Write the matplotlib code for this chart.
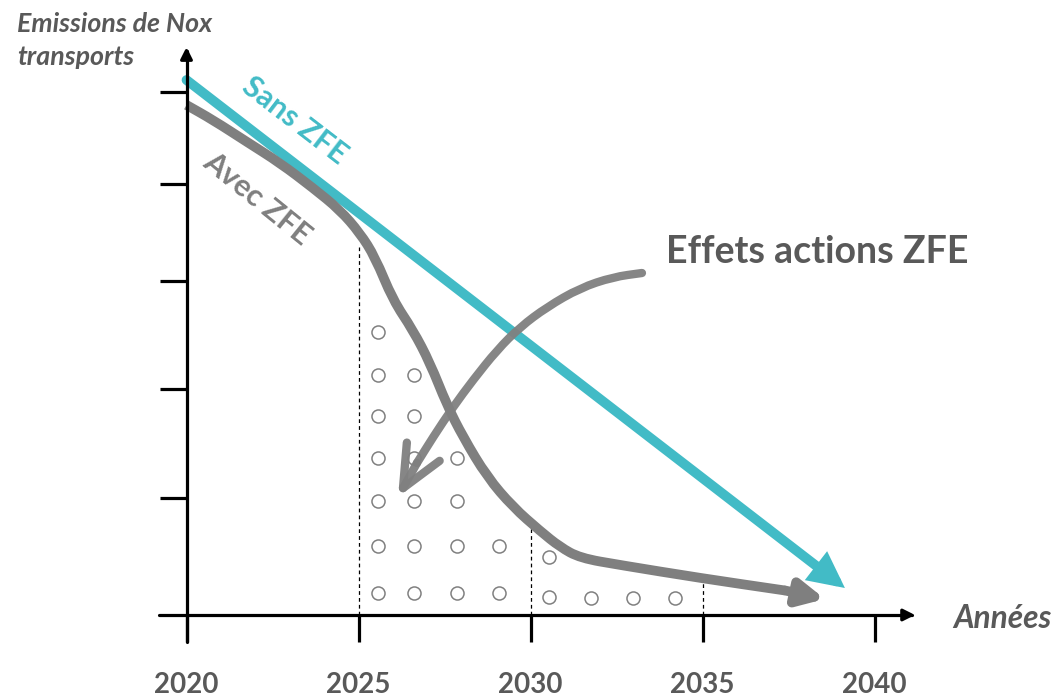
import numpy as np
import matplotlib
matplotlib.use("Agg")
import matplotlib.pyplot as plt
from matplotlib.patches import FancyArrowPatch, PathPatch
from matplotlib.path import Path

# data (years / emission level, arbitrary units)
years_ticks = [2020, 2025, 2030, 2035, 2040]
y_ticks = [11.7, 22.6, 33.4, 43.1, 52.3]

sans_years = [2020.0, 2039.14]
sans_vals = [53.5, 2.7]

avec_years = [2020.0, 2020.77, 2021.76, 2022.72, 2023.68, 2024.46, 2025.04, 2025.48,
              2026.0, 2026.58, 2027.08, 2027.57, 2028.04, 2028.74, 2029.49, 2030.28,
              2030.86, 2031.44, 2032.6, 2034.93, 2037.4, 2038.56]
avec_vals = [51.0, 49.5, 47.3, 45.2, 42.7, 40.5, 38.2, 35.8,
             31.5, 28.5, 25.2, 21.0, 17.8, 13.8, 10.8, 8.4,
             6.8, 5.7, 5.0, 3.7, 2.45, 1.6]

# dashed guides at 2025 / 2030 / 2035
guide_years = [2025, 2030, 2035]
guide_tops = [36.8, 8.8, 3.7]

# small circles = gap between the two scenarios
dots_x = [2025.56] * 7 + [2026.60] * 6 + [2027.85] * 4 + [2029.08] * 2 + [2030.53] * 2 \
    + [2031.76, 2032.98, 2034.2]
dots_y = [28.3, 24.0, 19.9, 15.7, 11.4, 6.9, 2.2,
          24.0, 19.9, 15.7, 11.4, 6.9, 2.2,
          15.7, 11.4, 6.9, 2.2,
          6.9, 2.2,
          5.8, 1.8,
          1.7, 1.7, 1.7]

# hand drawn arrow "Effets actions ZFE"
effet_x = [2033.24, 2032.40, 2031.44, 2030.48, 2029.70, 2029.03, 2028.33,
           2027.75, 2027.17, 2026.70, 2026.15]
effet_y = [34.2, 33.8, 32.7, 30.8, 28.8, 26.5, 23.5, 20.8, 17.8, 15.2, 11.8]

W, H = 1057, 697
teal = "#42BBC6"
grey = "#7F7F7F"
txt = "#595959"
font = "Lato"

fig = plt.figure(figsize=(W / 100, H / 100), dpi=100)
ax = fig.add_axes([0, 0, 1, 1])
sx = 34.4
ax.set_xlim(2020 - 186.5 / sx, 2020 + (W - 186.5) / sx)
ax.set_ylim(-8.2, 61.5)
ax.axis("off")


def arrow(xs, ys, style, lw, color, ms=10, z=3, **kw):
    p = FancyArrowPatch(path=Path(np.column_stack([xs, ys])), arrowstyle=style,
                        mutation_scale=ms, lw=lw, color=color, zorder=z, **kw)
    ax.add_patch(p)
    return p


def smooth_arrow(xs, ys, style, lw, color, z=3, alpha=1.0, cap="round"):
    # quadratic b-spline through the read points, head added on the last segment
    pts = np.column_stack([xs, ys])
    mids = (pts[:-1] + pts[1:]) / 2
    verts = [pts[0], mids[0]]
    codes = [Path.MOVETO, Path.LINETO]
    for i in range(1, len(pts) - 2):
        verts += [pts[i], mids[i]]
        codes += [Path.CURVE3, Path.CURVE3]
    verts.append(pts[-2])
    codes.append(Path.LINETO)
    ax.add_patch(PathPatch(Path(verts, codes), fill=False, lw=lw, ec=color,
                           capstyle=cap, joinstyle="round", zorder=z, alpha=alpha))
    arrow(xs[-2:], ys[-2:], style, lw, color, z=z, alpha=alpha,
          joinstyle="round", capstyle="round")


# axes
arrow([2019.2, 2041.18], [0, 0], "-|>,head_length=0.7,head_width=0.35", 2.3, "black", z=4)
arrow([2020, 2020], [-2.7, 56.8], "-|>,head_length=0.7,head_width=0.35", 2.3, "black", z=4)
ax.hlines(y_ticks, 2020 - 27 / sx, 2020, color="black", lw=2.3, zorder=4)
ax.vlines(years_ticks, -2.7, 0, color="black", lw=2.3, zorder=4)
for yr in years_ticks:
    ax.text(yr, -7.8, str(yr), ha="center", va="baseline", fontsize=20,
            fontweight="bold", color=txt, family=font)

# dashed guides
ax.vlines(guide_years, 0, guide_tops, color="black", lw=0.9, linestyles=(0, (3, 2.5)), zorder=2)

# circles
ax.plot(dots_x, dots_y, "o", ms=9.4, mfc="white", mec="#808080", mew=1.1, zorder=2)

# scenario lines
arrow(sans_years, sans_vals, "-|>,head_length=1.5,head_width=0.75", 7, teal, joinstyle="miter")
smooth_arrow(avec_years, avec_vals, "-|>,head_length=1.5,head_width=0.75", 7, grey, cap="butt")
smooth_arrow(effet_x, effet_y, "->,head_length=3.0,head_width=1.35", 6.0, "#808080", z=5,
             alpha=0.95)

# labels
ax.text(2023.15, 49.45, "Sans ZFE", rotation=-37.5, rotation_mode="anchor", ha="center",
        va="center", fontsize=22, fontweight="bold", color=teal, family=font)
ax.text(2022.05, 41.6, "Avec ZFE", rotation=-39, rotation_mode="anchor", ha="center",
        va="center", fontsize=22, fontweight="bold", color=grey, family=font)

fig.text(17 / W, 1 - 32 / H, "Emissions de Nox", fontsize=19.3, fontweight="bold",
         fontstyle="italic", color=txt, family=font)
fig.text(17 / W, 1 - 65 / H, "transports", fontsize=19.3, fontweight="bold",
         fontstyle="italic", color=txt, family=font)
fig.text(953 / W, 1 - 628 / H, "Années", fontsize=22.8, fontweight="bold",
         fontstyle="italic", color=txt, family=font)
fig.text(666 / W, 1 - 263 / H, "Effets actions ZFE", fontsize=27, fontweight="bold",
         color=txt, family=font)

fig.savefig("out.png", dpi=100, facecolor="white")
